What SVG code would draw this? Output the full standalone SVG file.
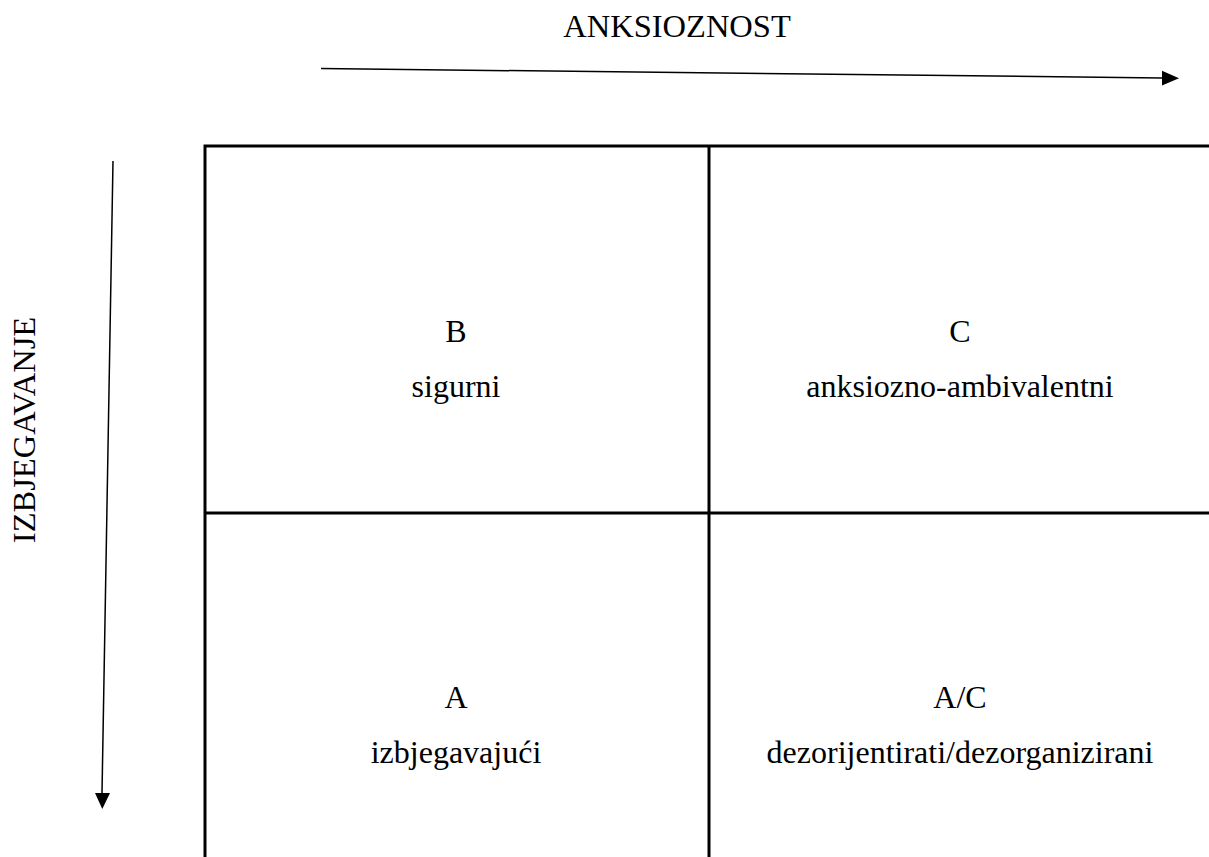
<svg xmlns="http://www.w3.org/2000/svg" width="1209" height="857" viewBox="0 0 1209 857">
<style>
text{font-family:"Liberation Serif","Times New Roman",serif;font-size:32px;fill:#000;text-anchor:middle}
.axis{font-size:32.5px}
.grid{stroke:#000;stroke-width:3;fill:none}
.arr{stroke:#000;stroke-width:1.5;fill:none}
</style>
<rect width="1209" height="857" fill="#fff"/>
<g id="axis-labels">
<text class="axis" x="677" y="37">ANKSIOZNOST</text>
<text class="axis" transform="translate(35,430) rotate(-90)">IZBJEGAVANJE</text>
</g>
<g id="connectors">
<line class="arr" x1="321" y1="68.5" x2="1162" y2="78"/>
<polygon points="1162,70.8 1179,78.2 1162,85.6" fill="#000"/>
<line class="arr" x1="113" y1="161" x2="102" y2="793"/>
<polygon points="95,793 110,793 102.3,809" fill="#000"/>
</g>
<g id="grid">
<path class="grid" d="M205,857 V146 H1209 M709,146 V857 M205,513 H1209"/>
</g>
<g id="cell-B"><text x="456" y="342">B</text><text x="456" y="397">sigurni</text></g>
<g id="cell-C"><text x="960" y="342">C</text><text x="960" y="397">anksiozno-ambivalentni</text></g>
<g id="cell-A"><text x="456" y="708">A</text><text x="456" y="763">izbjegavajući</text></g>
<g id="cell-AC"><text x="960" y="708">A/C</text><text x="960" y="763">dezorijentirati/dezorganizirani</text></g>
</svg>
